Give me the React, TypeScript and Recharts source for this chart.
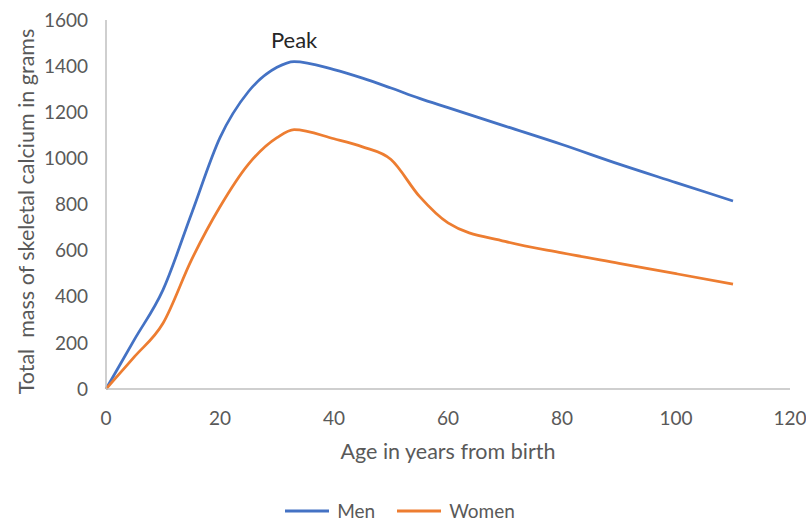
import { LineChart, Line, XAxis, YAxis, Legend, ReferenceDot, Label } from 'recharts'

// Skeletal calcium by age, read at these ages (years)
const AGES = [0, 5, 10, 15, 20, 25, 30, 33, 40, 45, 50, 55, 60, 70, 80, 90, 100, 110]
const MEN = [0, 215, 430, 760, 1090, 1290, 1395, 1420, 1385, 1348, 1305, 1260, 1220, 1140, 1060, 975, 895, 815]
const WOMEN = [0, 140, 285, 560, 790, 975, 1090, 1125, 1085, 1050, 995, 835, 720, 640, 590, 545, 500, 455]

const X_TICKS = [0, 20, 40, 60, 80, 100, 120]
const Y_TICKS = [0, 200, 400, 600, 800, 1000, 1200, 1400, 1600]

const PEAK_AGE = 33
const PEAK_MEN = 1420

const SERIES = [
  { key: 'men', label: 'Men', color: '#4472C4' },
  { key: 'women', label: 'Women', color: '#ED7D31' },
]

const FONT = 'Lato, "Open Sans", sans-serif'
const AXIS_GREY = '#BFBFBF'
const TEXT_GREY = '#595959'

const data = AGES.map((age, i) => ({ age, men: MEN[i], women: WOMEN[i] }))

function LegendContent() {
  return (
    <div style={{ display: 'flex', justifyContent: 'center', alignItems: 'center', gap: 22, height: 22, paddingLeft: 10, fontFamily: FONT, fontSize: 19, lineHeight: '22px', color: TEXT_GREY }}>
      {SERIES.map(s => (
        <div key={s.key} style={{ display: 'flex', alignItems: 'center', gap: 8 }}>
          <svg width={44} height={4}>
            <line x1={0} y1={2} x2={44} y2={2} stroke={s.color} strokeWidth={3} />
          </svg>
          <span>{s.label}</span>
        </div>
      ))}
    </div>
  )
}

export default function App() {
  const tick = { fill: TEXT_GREY, fontSize: 19, fontFamily: FONT }
  return (
    <div style={{ position: 'absolute', left: 0, top: 0, width: 806, height: 522, background: '#fff' }}>
      <LineChart width={806} height={522} data={data} margin={{ top: 20, right: 16, bottom: 0, left: 0 }}>
        <XAxis
          dataKey="age"
          type="number"
          domain={[0, 120]}
          ticks={X_TICKS}
          tickLine={false}
          tickMargin={17}
          axisLine={{ stroke: AXIS_GREY, strokeWidth: 1.5 }}
          tick={tick}
          height={111}
        >
          <Label
            content={({ viewBox }: any) => (
              <text x={viewBox.x + viewBox.width / 2} y={viewBox.y + 62} textAnchor="middle" dominantBaseline="central" fill={TEXT_GREY} fontSize={21.5} fontFamily={FONT}>
                Age in years from birth
              </text>
            )}
          />
        </XAxis>
        <YAxis
          type="number"
          domain={[0, 1600]}
          ticks={Y_TICKS}
          tickLine={false}
          tickMargin={12}
          axisLine={{ stroke: AXIS_GREY, strokeWidth: 1.5 }}
          tick={tick}
          width={106}
        >
          <Label
            content={({ viewBox }: any) => {
              const cx = 26
              const cy = viewBox.y + viewBox.height / 2 + 7
              return (
                <text x={cx} y={cy} transform={`rotate(-90 ${cx} ${cy})`} textAnchor="middle" dominantBaseline="central" fill={TEXT_GREY} fontSize={21.5} fontFamily={FONT} style={{ whiteSpace: 'pre' }}>
                  {'Total  mass of skeletal calcium in grams'}
                </text>
              )
            }}
          />
        </YAxis>
        <Legend verticalAlign="bottom" content={() => <LegendContent />} />
        {SERIES.map(s => (
          <Line
            key={s.key}
            dataKey={s.key}
            name={s.label}
            type="monotone"
            stroke={s.color}
            strokeWidth={2.75}
            dot={false}
            isAnimationActive={false}
          />
        ))}
        <ReferenceDot x={PEAK_AGE} y={PEAK_MEN} r={0} fill="none" stroke="none">
          <Label value="Peak" position="top" offset={14} fill="#262626" fontSize={22} fontFamily={FONT} />
        </ReferenceDot>
      </LineChart>
    </div>
  )
}
